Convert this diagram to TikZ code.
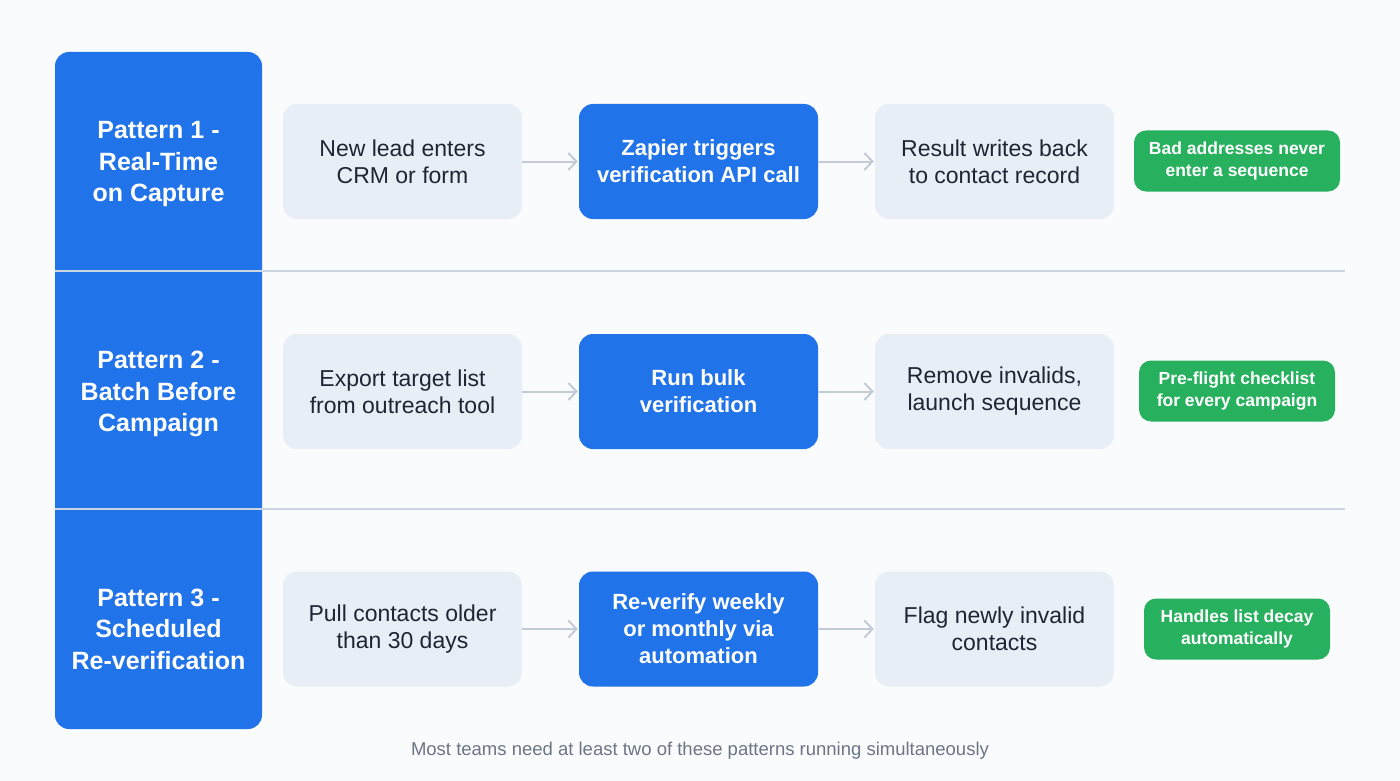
\documentclass[tikz,border=0pt]{standalone}
\usepackage{fontspec}
\setmainfont{Liberation Sans}
\usetikzlibrary{arrows.meta}
\definecolor{bgcol}{HTML}{FAFBFC}
\definecolor{blue1}{HTML}{2173EA}
\definecolor{lightbox}{HTML}{E8EEF6}
\definecolor{green1}{HTML}{27B05E}
\definecolor{darktext}{HTML}{1E2633}
\definecolor{divider}{HTML}{CBD4E1}
\definecolor{arrowcol}{HTML}{C3CBD6}
\definecolor{foot}{HTML}{6B7585}
\tikzset{
  stepbox/.style={rounded corners=14pt, minimum width=239pt, minimum height=115pt,
    align=center, inner sep=0pt, font=\fontsize{23}{27}\selectfont},
  plainstep/.style={stepbox, fill=lightbox, text=darktext},
  keystep/.style={stepbox, fill=blue1, text=white, font=\fontsize{22}{27}\selectfont\bfseries},
  outcome/.style={rounded corners=12pt, minimum height=61pt, fill=green1, text=white,
    align=center, inner sep=0pt, font=\fontsize{17.5}{22}\selectfont\bfseries},
  patlabel/.style={align=center, text=white, font=\fontsize{25}{31.5}\selectfont\bfseries},
  flow/.style={draw=arrowcol, line width=2pt, -{Straight Barb[length=8pt,width=17pt,line width=2pt]}},
  divline/.style={draw=divider, line width=2.5pt}
}
\begin{document}
\begin{tikzpicture}[x=1pt,y=-1pt]
\fill[bgcol] (0,0) rectangle (1400,781);
\useasboundingbox (0,0) rectangle (1400,781);
% left column
\fill[blue1, rounded corners=14pt] (55,52) rectangle (262,729);
\coordinate (d1a) at (55,271); \coordinate (d1b) at (1345,271);
\coordinate (d2a) at (55,509); \coordinate (d2b) at (1345,509);
\draw[divline] (d1a) -- (d1b);
\draw[divline] (d2a) -- (d2b);
% pattern labels
\node[patlabel] (p1) at (158.5,164) {Pattern 1 -\\Real-Time\\on Capture};
\node[patlabel] (p2) at (158.5,394) {Pattern 2 -\\Batch Before\\Campaign};
\node[patlabel] (p3) at (158.5,629) {Pattern 3 -\\Scheduled\\Re-verification};
% row 1
\node[plainstep] (a1) at (402.5,161.5) {New lead enters\\CRM or form};
\node[keystep] (b1) at (698.5,161.5) {Zapier triggers\\verification API call};
\node[plainstep] (c1) at (994.5,161.5) {Result writes back\\to contact record};
\node[outcome, minimum width=206pt] (g1) at (1237,161) {Bad addresses never\\enter a sequence};
% row 2
\node[plainstep] (a2) at (402.5,391.5) {Export target list\\from outreach tool};
\node[keystep] (b2) at (698.5,391.5) {Run bulk\\verification};
\node[plainstep] (c2) at (994.5,391.5) {Remove invalids,\\launch sequence};
\node[outcome, minimum width=196pt] (g2) at (1237,391) {Pre-flight checklist\\for every campaign};
% row 3
\node[plainstep] (a3) at (402.5,629) {Pull contacts older\\than 30 days};
\node[keystep] (b3) at (698.5,629) {Re-verify weekly\\or monthly via\\automation};
\node[plainstep] (c3) at (994.5,629) {Flag newly invalid\\contacts};
\node[outcome, minimum width=186pt] (g3) at (1237,629) {Handles list decay\\automatically};
% arrows
\foreach \r in {1,2,3}{
  \draw[flow] (a\r.east) -- ([xshift=-1pt]b\r.west);
  \draw[flow] (b\r.east) -- ([xshift=-1pt]c\r.west);
}
% footer
\node[text=foot, font=\fontsize{18.5}{22}\selectfont] (footer) at (700,751) {Most teams need at least two of these patterns running simultaneously};
\end{tikzpicture}
\end{document}
